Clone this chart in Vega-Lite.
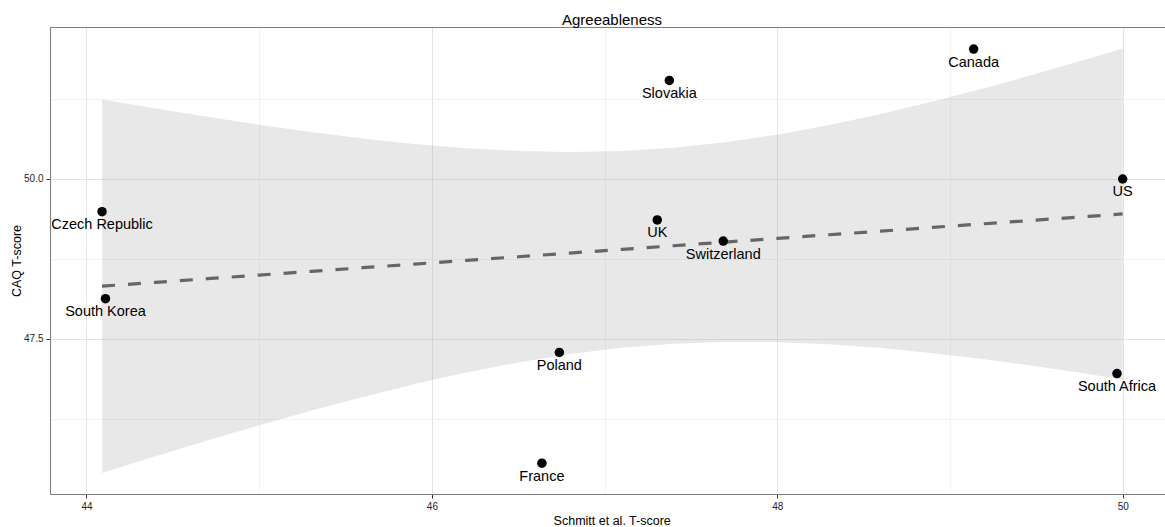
{
  "$schema": "https://vega.github.io/schema/vega-lite/v6.json",
  "autosize": {"type": "none"},
  "width": 1115,
  "height": 467,
  "padding": {"left": 50, "top": 27, "right": 0, "bottom": 33},
  "background": "white",
  "config": {
    "font": "Liberation Sans",
    "view": {"stroke": null},
    "axis": {
      "labelFont": "Liberation Sans",
      "titleFont": "Liberation Sans",
      "labelFontSize": 10,
      "labelColor": "#262626",
      "titleFontSize": 12.5,
      "titleFontWeight": "normal",
      "titleColor": "#000000",
      "tickColor": "#333333",
      "tickSize": 4,
      "domainColor": "#7f7f7f",
      "domainWidth": 1.1
    }
  },
  "title": {
    "text": "Agreeableness",
    "font": "Liberation Sans",
    "fontSize": 15,
    "fontWeight": "normal",
    "color": "#000000",
    "anchor": "middle",
    "baseline": "alphabetic",
    "offset": 3,
    "dx": 4.5,
    "dy": 16
  },
  "datasets": {
    "countries": [
      {"country": "Czech Republic", "schmitt": 44.09, "caq": 49.49},
      {"country": "South Korea", "schmitt": 44.11, "caq": 48.13},
      {"country": "Slovakia", "schmitt": 47.375, "caq": 51.54},
      {"country": "UK", "schmitt": 47.305, "caq": 49.36},
      {"country": "Switzerland", "schmitt": 47.687, "caq": 49.03},
      {"country": "Canada", "schmitt": 49.137, "caq": 52.03},
      {"country": "US", "schmitt": 50.0, "caq": 50.0},
      {"country": "Poland", "schmitt": 46.738, "caq": 47.29},
      {"country": "France", "schmitt": 46.637, "caq": 45.56},
      {"country": "South Africa", "schmitt": 49.967, "caq": 46.96}
    ],
    "fit": [
      {"schmitt": 44.09, "fit": 48.325, "lo": 45.407, "hi": 51.243},
      {"schmitt": 44.4, "fit": 48.385, "lo": 45.668, "hi": 51.102},
      {"schmitt": 44.7, "fit": 48.442, "lo": 45.913, "hi": 50.971},
      {"schmitt": 45.0, "fit": 48.499, "lo": 46.151, "hi": 50.847},
      {"schmitt": 45.3, "fit": 48.556, "lo": 46.378, "hi": 50.734},
      {"schmitt": 45.6, "fit": 48.614, "lo": 46.595, "hi": 50.633},
      {"schmitt": 45.9, "fit": 48.671, "lo": 46.795, "hi": 50.547},
      {"schmitt": 46.2, "fit": 48.728, "lo": 46.976, "hi": 50.480},
      {"schmitt": 46.5, "fit": 48.785, "lo": 47.133, "hi": 50.437},
      {"schmitt": 46.8, "fit": 48.843, "lo": 47.264, "hi": 50.422},
      {"schmitt": 47.1, "fit": 48.900, "lo": 47.362, "hi": 50.438},
      {"schmitt": 47.4, "fit": 48.957, "lo": 47.425, "hi": 50.489},
      {"schmitt": 47.7, "fit": 49.015, "lo": 47.454, "hi": 50.575},
      {"schmitt": 48.0, "fit": 49.072, "lo": 47.450, "hi": 50.693},
      {"schmitt": 48.3, "fit": 49.129, "lo": 47.416, "hi": 50.842},
      {"schmitt": 48.6, "fit": 49.186, "lo": 47.358, "hi": 51.014},
      {"schmitt": 48.9, "fit": 49.244, "lo": 47.279, "hi": 51.209},
      {"schmitt": 49.2, "fit": 49.301, "lo": 47.183, "hi": 51.419},
      {"schmitt": 49.5, "fit": 49.358, "lo": 47.073, "hi": 51.643},
      {"schmitt": 49.8, "fit": 49.415, "lo": 46.953, "hi": 51.877},
      {"schmitt": 50.0, "fit": 49.454, "lo": 46.869, "hi": 52.039}
    ]
  },
  "resolve": {"axis": {"x": "independent", "y": "independent"}},
  "layer": [
    {
      "data": {"name": "fit"},
      "mark": {"type": "area", "fill": "#8c8c8c", "opacity": 0.2, "interpolate": "linear"},
      "encoding": {
        "x": {
          "field": "schmitt", "type": "quantitative",
          "scale": {"domain": [43.7887, 50.245], "nice": false, "zero": false},
          "axis": {
            "orient": "top", "values": [45, 47, 49], "labels": false, "ticks": false,
            "title": null, "grid": true, "gridColor": "#f3f3f3", "gridWidth": 1,
            "domain": true
          }
        },
        "y": {
          "field": "lo", "type": "quantitative",
          "scale": {"domain": [45.078, 52.375], "nice": false, "zero": false},
          "axis": {
            "orient": "right", "values": [46.25, 48.75, 51.25], "labels": false, "ticks": false,
            "title": null, "grid": true, "gridColor": "#f3f3f3", "gridWidth": 1,
            "domain": false
          }
        },
        "y2": {"field": "hi"}
      }
    },
    {
      "data": {"name": "fit"},
      "mark": {"type": "line", "color": "#666666", "strokeWidth": 3.2, "strokeDash": [13, 13]},
      "encoding": {
        "x": {
          "field": "schmitt", "type": "quantitative",
          "axis": {
            "orient": "bottom", "values": [44, 46, 48, 50], "title": "Schmitt et al. T-score",
            "grid": true, "gridColor": "#e5e5e5", "gridWidth": 1,
            "labelPadding": 3, "titlePadding": 3, "titleX": 561.7
          }
        },
        "y": {
          "field": "fit", "type": "quantitative",
          "axis": {
            "orient": "left", "values": [47.5, 50], "format": ".1f", "title": "CAQ T-score",
            "grid": true, "gridColor": "#e5e5e5", "gridWidth": 1,
            "labelPadding": 3, "titlePadding": 0
          }
        }
      }
    },
    {
      "data": {"name": "countries"},
      "mark": {"type": "circle", "color": "#000000", "opacity": 1, "size": 90},
      "encoding": {
        "x": {"field": "schmitt", "type": "quantitative", "axis": null},
        "y": {"field": "caq", "type": "quantitative", "axis": null}
      }
    },
    {
      "data": {"name": "countries"},
      "mark": {
        "type": "text", "font": "Liberation Sans", "fontSize": 14.5, "color": "#000000",
        "align": "center", "baseline": "alphabetic", "dy": 17.5
      },
      "encoding": {
        "x": {"field": "schmitt", "type": "quantitative", "axis": null},
        "y": {"field": "caq", "type": "quantitative", "axis": null},
        "text": {"field": "country"}
      }
    }
  ]
}
